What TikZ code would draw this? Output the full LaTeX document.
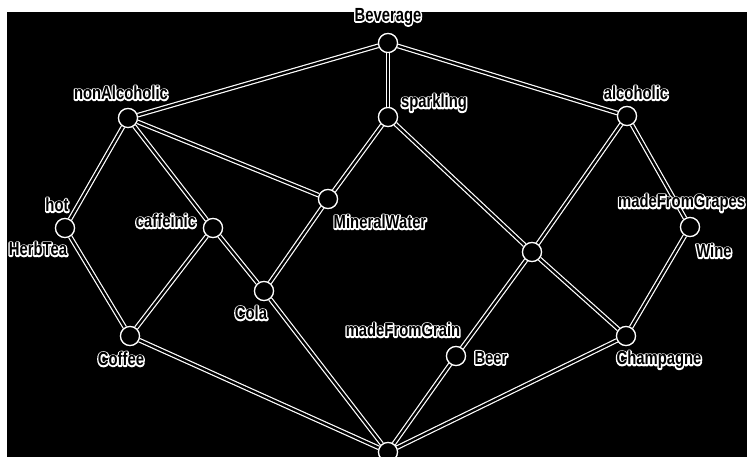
\documentclass[tikz,border=0pt]{standalone}
\usepackage{fontspec}
\newfontfamily\lblfont{Liberation Sans}[FakeStretch=0.78]
% white stroked copy under the black text
\newcommand{\halo}[1]{\leavevmode\rlap{\color{white}\special{pdf:literal direct 1 Tr 2.8 w 1 j}#1\special{pdf:literal direct 0 Tr}}#1}

\tikzset{
  concept/.style={circle, fill=black, draw=white, line width=1.2pt, minimum size=19pt, inner sep=0pt},
  link/.style={draw=white, line width=1.2pt, double=black, double distance=2.3pt},
  lbl/.style={font=\lblfont\bfseries\fontsize{19}{21}\selectfont, text=black, inner sep=0pt},
}

\begin{document}
\begin{tikzpicture}[x=1pt, y=-1pt]
\useasboundingbox (0,0) rectangle (747,457);
\fill[white] (0,0) rectangle (747,457);
\fill[black] (7,12) rectangle (747,457);

% lattice nodes
\node[concept] (bev) at (388,43) {};
\node[concept] (nonalc) at (128,118) {};
\node[concept] (spark) at (388,117) {};
\node[concept] (alc) at (627,116) {};
\node[concept] (hot) at (65,228) {};
\node[concept] (caff) at (213,228) {};
\node[concept] (water) at (328,199) {};
\node[concept] (cola) at (264,291) {};
\node[concept] (coffee) at (130,336) {};
\node[concept] (sparkalc) at (532,252) {};
\node[concept] (beer) at (456,356) {};
\node[concept] (wine) at (690,227) {};
\node[concept] (champ) at (626,336) {};
\node[concept] (bottom) at (388,452) {};

% edges
\path[link] (bev) -- (nonalc);
\path[link] (bev) -- (spark);
\path[link] (bev) -- (alc);
\path[link] (nonalc) -- (hot);
\path[link] (nonalc) -- (caff);
\path[link] (nonalc) -- (water);
\path[link] (spark) -- (water);
\path[link] (spark) -- (sparkalc);
\path[link] (alc) -- (sparkalc);
\path[link] (alc) -- (wine);
\path[link] (hot) -- (coffee);
\path[link] (caff) -- (coffee);
\path[link] (caff) -- (cola);
\path[link] (water) -- (cola);
\path[link] (sparkalc) -- (beer);
\path[link] (sparkalc) -- (champ);
\path[link] (wine) -- (champ);
\path[link] (coffee) -- (bottom);
\path[link] (cola) -- (bottom);
\path[link] (beer) -- (bottom);
\path[link] (champ) -- (bottom);

% redraw dots over the edges
\foreach \n in {bev,nonalc,spark,alc,hot,caff,water,cola,coffee,sparkalc,beer,wine,champ,bottom}
  \node[concept] at (\n) {};

% labels
\node[lbl] (lbev) at (388,17) {\halo{Beverage}};
\node[lbl] (lnonalc) at (121,93) {\halo{nonAlcoholic}};
\node[lbl] (lspark) at (434,103) {\halo{sparkling}};
\node[lbl] (lalc) at (636,93) {\halo{alcoholic}};
\node[lbl] (lhot) at (57,205) {\halo{hot}};
\node[lbl] (lherb) at (38,249) {\halo{HerbTea}};
\node[lbl] (lcaff) at (166,221) {\halo{caffeinic}};
\node[lbl] (lwater) at (380,222) {\halo{MineralWater}};
\node[lbl, anchor=west] (lgrapes) at (618,203) {\halo{madeFromGrapes}};
\node[lbl] (lwine) at (714,251) {\halo{Wine}};
\node[lbl] (lcola) at (251,313) {\halo{Cola}};
\node[lbl] (lcoffee) at (121,359) {\halo{Coffee}};
\node[lbl] (lgrain) at (403,330) {\halo{madeFromGrain}};
\node[lbl] (lbeer) at (491,358) {\halo{Beer}};
\node[lbl] (lchamp) at (659,360) {\halo{Champagne}};
\end{tikzpicture}
\end{document}
